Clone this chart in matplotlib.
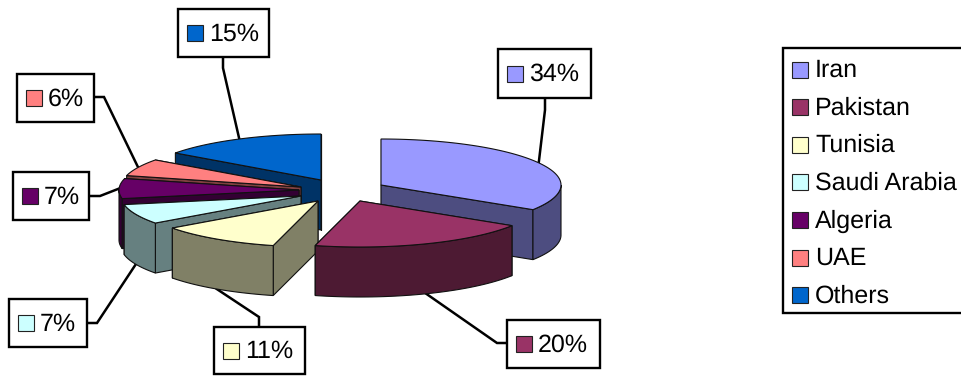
import numpy as np
import matplotlib
matplotlib.use("Agg")
import matplotlib.pyplot as plt
from matplotlib.patches import Polygon, Rectangle

plt.rcParams['font.family'] = ['Liberation Sans', 'DejaVu Sans']
plt.rcParams['text.hinting'] = 'none'

# data
countries = ["Iran", "Pakistan", "Tunisia", "Saudi Arabia", "Algeria", "UAE", "Others"]
shares = [34, 20, 11, 7, 7, 6, 15]

# styles
top_colors = ["#9999FF", "#993366", "#FFFFCC", "#CCFFFF", "#660066", "#FF8080", "#0066CC"]
side_colors = ["#4D4D80", "#4D1A33", "#808066", "#668080", "#330033", "#804040", "#003366"]

# layout in pixels: where each exploded slice has its apex
apex_x = [381, 360, 318, 301, 299, 301, 321]
apex_y = [185, 201, 201, 196, 190, 187, 180]
rx, ry, depth = 180, 46, 50

# label boxes: left, top, right, bottom
boxes = [(498, 49, 591, 98), (507, 320, 600, 368), (214, 327, 305, 374), (9, 299, 87, 347),
         (13, 172, 89, 220), (17, 74, 94, 122), (178, 9, 269, 57)]
# leader elbow and the point on the box where it starts
elbows = [(545, 110), (497, 343), (259, 317), (97, 323), (100, 196), (104, 97), (223, 68)]
starts = [(545, 98), (507, 343), (259, 327), (87, 323), (89, 196), (94, 97), (223, 57)]
draw_order = [6, 5, 4, 0, 3, 2, 1]


def rim(cx, cy, angle):
    # angle in degrees clockwise from 12 o'clock
    a = np.radians(angle)
    return cx + rx * np.sin(a), cy - ry * np.cos(a)


fig = plt.figure(figsize=(9.61, 3.77), dpi=100)
ax = fig.add_axes([0, 0, 1, 1])
ax.set_xlim(0, 961)
ax.set_ylim(377, 0)
ax.axis("off")

edges = np.cumsum([0] + shares) / sum(shares) * 360

# leader lines go under the pie
for i in range(len(shares)):
    mid = (edges[i] + edges[i + 1]) / 2
    px, py = rim(apex_x[i], apex_y[i], mid)
    if np.cos(np.radians(mid)) < 0:
        py += depth
    ax.plot([starts[i][0], elbows[i][0], px], [starts[i][1], elbows[i][1], py],
            color="black", lw=1.8, solid_joinstyle="miter", zorder=1)

z = 2
for i in draw_order:
    cx, cy = apex_x[i], apex_y[i]
    a0, a1 = edges[i], edges[i + 1]
    cuts = sorted([a0, a1], key=lambda ang: rim(cx, cy, ang)[1])
    for ang in cuts:
        x, y = rim(cx, cy, ang)
        ax.add_patch(Polygon([(cx, cy), (x, y), (x, y + depth), (cx, cy + depth)],
                             fc=side_colors[i], ec="#111111", lw=0.8, zorder=z))
        z += 1
    # outer wall, only the part on the near half
    w0, w1 = max(a0, 90), min(a1, 270)
    if w1 > w0:
        t = np.linspace(w0, w1, 60)
        x, y = rim(cx, cy, t)
        pts = list(zip(x, y)) + list(zip(x[::-1], y[::-1] + depth))
        ax.add_patch(Polygon(pts, fc=side_colors[i], ec="#111111", lw=0.8, zorder=z))
        z += 1
    t = np.linspace(a0, a1, 80)
    x, y = rim(cx, cy, t)
    ax.add_patch(Polygon([(cx, cy)] + list(zip(x, y)), fc=top_colors[i], ec="#111111",
                         lw=0.8, zorder=z))
    z += 1

# value labels
for i, (l, t, r, b) in enumerate(boxes):
    ax.add_patch(Rectangle((l, t), r - l, b - t, fc="white", ec="black", lw=1.7, zorder=50))
    ym = (t + b) / 2
    ax.add_patch(Rectangle((l + 9, ym - 8), 16, 16, fc=top_colors[i], ec="#222222", lw=0.8, zorder=51))
    ax.text(l + 31, ym + 1, f"{shares[i]}%", fontsize=18, va="center", ha="left",
            color="black", zorder=51)

# legend, its right side runs off the picture
ax.add_patch(Rectangle((783, 48), 200, 265, fc="white", ec="black", lw=1.7, zorder=50))
for i, name in enumerate(countries):
    ym = 69.5 + i * 37.6
    ax.add_patch(Rectangle((792, ym - 8), 16, 16, fc=top_colors[i], ec="#222222", lw=0.8, zorder=51))
    ax.text(815, ym + 1, name, fontsize=18, va="center", ha="left", color="black", zorder=51)

fig.savefig("out.png", dpi=100)
